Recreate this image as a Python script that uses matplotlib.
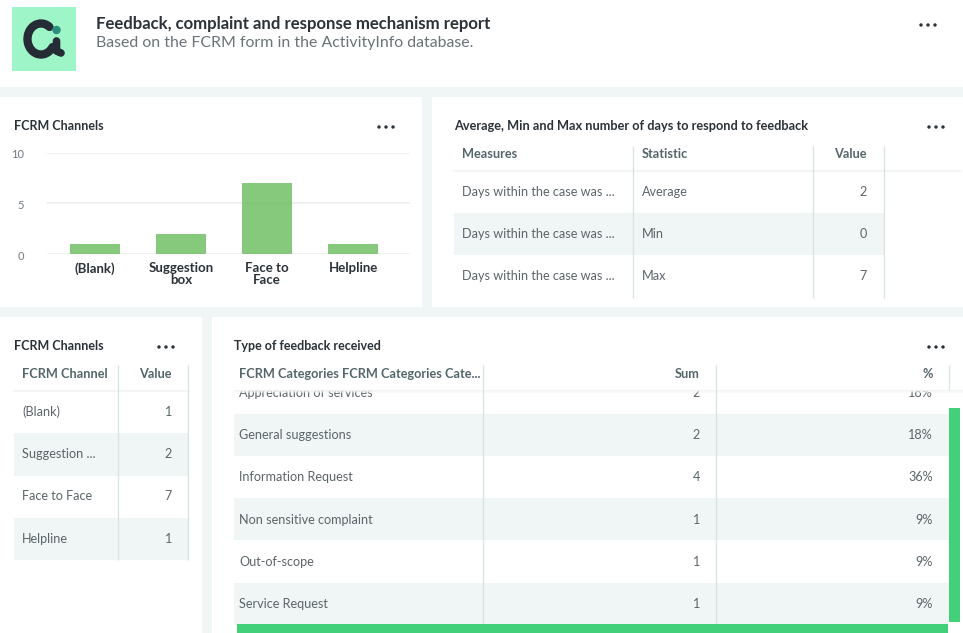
import matplotlib
matplotlib.use("Agg")
import matplotlib.pyplot as plt
from matplotlib.patches import Rectangle, Circle, Arc
from matplotlib.transforms import ScaledTranslation

W, H = 963, 633
FONT = ["Lato", "Noto Sans", "DejaVu Sans"]
plt.rcParams["font.family"] = FONT

# ---- data ----
report_title = "Feedback, complaint and response mechanism report"
report_subtitle = "Based on the FCRM form in the ActivityInfo database."

chart_title = "FCRM Channels"
channel_ticks = ["(Blank)", "Suggestion\nbox", "Face to\nFace", "Helpline"]
channel_values = [1, 2, 7, 1]
y_ticks = [0, 5, 10]

stats_title = "Average, Min and Max number of days to respond to feedback"
stats_headers = ["Measures", "Statistic", "Value"]
stats_measures = ["Days within the case was ..."] * 3
stats_names = ["Average", "Min", "Max"]
stats_values = [2, 0, 7]

channel_table_title = "FCRM Channels"
channel_headers = ["FCRM Channel", "Value"]
channel_names = ["(Blank)", "Suggestion ...", "Face to Face", "Helpline"]

feedback_title = "Type of feedback received"
feedback_headers = ["FCRM Categories FCRM Categories Cate...", "Sum", "%"]
feedback_names = ["Appreciation of services", "General suggestions", "Information Request",
                  "Non sensitive complaint", "Out-of-scope", "Service Request"]
feedback_sums = [2, 2, 4, 1, 1, 1]
feedback_pct = ["18%", "18%", "36%", "9%", "9%", "9%"]

# ---- colours ----
BG = "#f0f6f6"
STRIPE = "#f0f5f5"
LINE = "#d6e5e2"
DARK = "#2b3238"
HEAD = "#55666a"
BODY = "#5c6569"
GREEN = "#42d07a"

fig = plt.figure(figsize=(W / 100, H / 100), dpi=100, facecolor=BG)
ax = fig.add_axes([0, 0, 1, 1])
ax.set_xlim(0, W)
ax.set_ylim(H, 0)
ax.axis("off")


def rect(x0, y0, x1, y1, color, z=1):
    ax.add_patch(Rectangle((x0, y0), x1 - x0, y1 - y0, fc=color, ec="none", zorder=z))


def vline(x, y0, y1, z=6):
    ax.plot([x, x], [y0, y1], color=LINE, lw=0.9, zorder=z, solid_capstyle="butt")


def text(x, y, s, size=9.05, color=BODY, ha="left", weight="normal", z=4):
    ax.text(x, y, s, fontsize=size, color=color, ha=ha, va="center",
            fontweight=weight, zorder=z)


def dots(cx, cy):
    for dx in (-7, 0, 7):
        ax.add_patch(Circle((cx + dx, cy), 1.7, fc=DARK, ec="none", zorder=5))


def header_band(x0, y0, x1, y1):
    rect(x0, y0, x1, y1, "white", z=5)
    for i, a in enumerate((0.9, 0.6, 0.3)):
        ax.plot([x0, x1], [y1 + i, y1 + i], color="#f4f6f6", alpha=a, lw=1, zorder=5)


# panels
rect(0, 0, W, 87, "white")
rect(0, 97, 422, 307, "white")
rect(432, 97, W, 307, "white")
rect(0, 317, 202, H, "white")
rect(212, 317, W, H, "white")

# header + logo
rect(12, 7, 76, 71, "#9df5c8", z=2)
ax.add_patch(Arc((41, 39), 27, 31, theta1=35, theta2=305, color="#252c36", lw=6,
                 capstyle="round", zorder=3))
ax.plot([56.5, 56.5, 61], [41, 51, 53], color="#252c36", lw=5.5, zorder=3, solid_capstyle="round")
ax.add_patch(Circle((56.5, 30), 4.2, fc="#2a8f7c", ec="none", zorder=4))
text(96, 24.5, report_title, size=12.05, color=DARK, weight="bold")
text(96, 43.5, report_subtitle, size=11.4, color="#6a7478")
dots(928, 25)

# bar chart panel
text(14, 125.5, chart_title, size=9.0, color=DARK, weight="bold")
dots(386, 127)
bx0, bx1, by0, by1 = 47, 410, 254, 153
bax = fig.add_axes([bx0 / W, 1 - by0 / H, (bx1 - bx0) / W, (by0 - by1) / H])
bax.patch.set_alpha(0)
positions = list(range(len(channel_values)))
bax.bar(positions, channel_values, width=50 / 86, color="#72c065", alpha=0.85, zorder=2)
bax.set_xlim(-48 / 86, 3 + 57 / 86)
bax.set_ylim(0, 10)
bax.set_yticks(y_ticks)
bax.set_yticklabels([str(t) for t in y_ticks], fontsize=8, color="#6f7a80")
bax.set_xticks(positions)
bax.set_xticklabels(channel_ticks, fontsize=9.5, color=DARK, fontweight="bold", linespacing=1.0)
bax.tick_params(axis="both", length=0)
bax.tick_params(axis="x", pad=6)
bax.tick_params(axis="y", pad=16.5)
shift = ScaledTranslation(0, -1 / 100, fig.dpi_scale_trans)
for lab in bax.get_yticklabels():
    lab.set_transform(lab.get_transform() + shift)
bax.yaxis.grid(True, color="#ececec", lw=1.1, zorder=0)
bax.set_axisbelow(True)
for s in bax.spines.values():
    s.set_visible(False)

# stats table
text(454, 125.5, stats_title, size=9.2, color=DARK, weight="bold")
dots(936, 127)
text(462, 154, stats_headers[0], size=9.2, color=HEAD, weight="bold")
text(642, 154, stats_headers[1], size=9.2, color=HEAD, weight="bold")
text(867, 154, stats_headers[2], size=9.2, color=HEAD, weight="bold", ha="right")
ax.plot([454, 960], [171, 171], color="#f3f5f5", lw=1.5, zorder=2)
for i, (m, n, v) in enumerate(zip(stats_measures, stats_names, stats_values)):
    yc = 192 + 42 * i
    if i % 2 == 1:
        rect(454, yc - 21, 884, yc + 21, STRIPE, z=2)
    text(462, yc, m)
    text(642, yc, n)
    text(867, yc, str(v), ha="right")
for x in (633, 813, 884):
    vline(x, 146, 298)

# channel table
text(14, 345.5, channel_table_title, size=9.0, color=DARK, weight="bold")
dots(166, 347)
text(22, 374, channel_headers[0], size=9.2, color=HEAD, weight="bold")
text(172, 374, channel_headers[1], size=9.2, color=HEAD, weight="bold", ha="right")
ax.plot([14, 188], [391, 391], color="#f3f5f5", lw=1.5, zorder=2)
for i, (n, v) in enumerate(zip(channel_names, channel_values)):
    yc = 411.7 + 42.3 * i
    if i % 2 == 1:
        rect(14, yc - 21, 188, yc + 21.5, STRIPE, z=2)
    text(22, yc, n)
    text(172, yc, str(v), ha="right")
for x in (118, 188):
    vline(x, 365, 560)

# feedback table
text(234, 345.5, feedback_title, size=9.0, color=DARK, weight="bold")
dots(936, 347)
for i, (n, s, p) in enumerate(zip(feedback_names, feedback_sums, feedback_pct)):
    yc = 393 + 42.2 * i
    if i % 2 == 1:
        rect(234, yc - 21.5, 949, yc + 20.5, STRIPE, z=2)
    text(239, yc, n)
    text(700, yc, str(s), ha="right")
    text(933, yc, p, ha="right")
header_band(234, 355, 963, 390)
text(239, 374, feedback_headers[0], size=9.2, color=HEAD, weight="bold", z=7)
text(700, 374, feedback_headers[1], size=9.2, color=HEAD, weight="bold", ha="right", z=7)
text(933, 374, feedback_headers[2], size=9.2, color=HEAD, weight="bold", ha="right", z=7)
for x in (483, 716):
    vline(x, 365, 624)
vline(949, 365, 390)
rect(237, 624, 948, 633, GREEN, z=7)
rect(949, 408, 960, 622, GREEN, z=7)

fig.savefig("out.png", dpi=100, facecolor=BG)
